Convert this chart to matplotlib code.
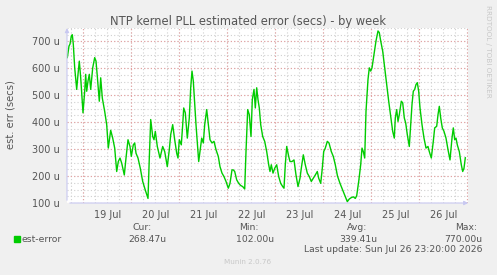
import matplotlib
matplotlib.use("Agg")
import matplotlib.pyplot as plt
import numpy as np

# hours since 18 Jul 00:00, estimated error in microseconds
hours = [16.0, 16.85, 17.35, 18.0, 18.5, 19.0, 19.7, 20.7, 21.35, 22.0, 22.7, 23.35, 23.85,
         24.7, 25.2, 25.7, 26.35, 27.0, 27.7, 28.7, 29.7, 30.35, 31.0, 32.0, 32.7, 33.5,
         34.7, 35.7, 36.5, 37.7, 38.7, 39.7, 40.7, 41.5, 42.35, 43.2, 44.5, 45.35, 46.35,
         47.35, 48.0, 49.0, 49.7, 50.35, 51.35, 52.5, 53.7, 55.0, 56.35, 57.0, 57.7, 58.7,
         59.35, 60.0, 61.0, 62.35, 63.7, 64.7, 66.0, 67.0, 67.7, 68.7, 69.7, 70.7, 71.35,
         72.0, 73.0, 73.7, 74.2, 75.0, 76.0, 77.0, 77.7, 78.35, 79.0, 79.7, 80.35, 81.7,
         82.5, 83.2, 84.0, 84.7, 85.7, 86.5, 87.35, 88.35, 89.35, 90.35, 91.5, 92.35, 93.35,
         94.35, 95.35, 96.5, 97.35, 98.35, 99.0, 99.7, 100.7, 101.7, 102.7, 103.7, 104.7,
         105.35, 106.2, 107.0, 107.85, 108.5, 109.35, 110.0, 110.7, 111.35, 112.0, 112.7,
         113.7, 114.7, 115.7, 116.7, 117.35, 118.0, 118.85, 119.7, 120.7, 121.7, 122.7,
         123.7, 124.35, 125.0, 125.7, 126.7, 127.35, 128.35, 129.35, 130.35, 131.35, 132.35,
         133.0, 134.0, 135.0, 136.0, 137.0, 138.0, 139.0, 140.0, 141.0, 141.7, 142.7, 143.5,
         144.2, 145.0, 146.0, 146.85, 148.0, 149.0, 150.0, 151.1, 152.35, 153.7, 155.0,
         156.0, 157.0, 158.0, 159.0, 160.0, 160.7, 161.7, 162.7, 163.35, 164.0, 164.7,
         165.35, 166.35, 167.0, 167.7, 168.35, 169.35, 170.35, 171.35, 172.0, 172.7, 173.7,
         174.7, 175.7, 176.7, 177.7, 178.7, 179.5, 180.0, 180.7, 181.35, 182.0, 183.0,
         183.7, 184.5, 185.2, 186.0, 187.0, 187.7, 188.35, 189.0, 189.7, 190.35, 191.0,
         191.7, 192.35, 193.35, 194.35, 195.35, 196.35, 197.0, 198.0, 199.0, 199.7, 200.7,
         201.35, 202.0, 202.7, 203.5, 204.35, 205.35, 206.35, 207.35, 208.35, 209.0, 209.7,
         210.35, 211.0, 212.0, 213.0, 213.7, 214.35, 215.0]
est_error = [640, 683, 690, 720, 725, 690, 602, 522, 578, 627, 565, 490, 435,
             515, 578, 515, 553, 578, 522, 602, 640, 627, 571, 478, 565, 490,
             440, 391, 304, 370, 341, 304, 217, 254, 267, 248, 204, 267, 335,
             310, 273, 316, 323, 285, 267, 229, 180, 148, 117, 267, 410, 347,
             335, 366, 310, 267, 310, 291, 235, 298, 354, 391, 335, 285, 267,
             335, 316, 391, 453, 435, 341, 416, 528, 590, 553, 466, 391, 254,
             300, 341, 323, 391, 447, 391, 335, 323, 329, 298, 273, 235, 211,
             198, 180, 155, 173, 223, 223, 217, 186, 173, 165, 161, 152,
             291, 447, 428, 347, 484, 522, 453, 528, 484, 453, 391,
             347, 329, 291, 242, 217, 242, 211, 229, 242, 198, 173,
             161, 155, 242, 310, 273, 254, 254, 260, 204, 161, 192,
             229, 279, 242, 211, 198, 180, 192, 204, 217, 192, 173, 229,
             291, 304, 329, 323, 291, 273, 242, 200, 173, 148, 123,
             105, 115, 120, 123, 117, 127, 180, 242, 304, 291, 267,
             440, 559, 602, 590, 602, 652, 702, 739, 733, 702, 664,
             602, 540, 478, 422, 366, 341, 416, 447, 403, 428, 478,
             472, 416, 397, 354, 310, 391, 466, 515, 522, 540, 547,
             515, 453, 391, 341, 304, 310, 291, 267, 329, 379, 385,
             428, 459, 416, 379, 366, 341, 298, 260, 341, 379, 335,
             341, 316, 291, 242, 217, 229, 268]

day_labels = ["19 Jul", "20 Jul", "21 Jul", "22 Jul", "23 Jul", "24 Jul", "25 Jul", "26 Jul"]
y_ticks = [100, 200, 300, 400, 500, 600, 700]
legend_label = "est-error"
cur, vmin, avg, vmax = "268.47u", "102.00u", "339.41u", "770.00u"

W, H = 497, 275
txt = "#555555"
fig = plt.figure(figsize=(W / 100, H / 100), dpi=100, facecolor="#f0f0f0")
ax = fig.add_axes([67 / W, (H - 203) / H, 401 / W, 175 / H])
ax.set_facecolor("white")

x0, x1 = 15.85, 216.35
ax.set_xlim(x0, x1)
ax.set_ylim(100, 750)

# grid: minor grey, major red, dotted
for h in np.arange(18, x1, 6):
    ax.axvline(h, color="#d0d0d0", lw=0.8, ls=(0, (1, 2)), zorder=1)
for v in np.arange(125, 751, 25):
    ax.axhline(v, color="#d0d0d0", lw=0.8, ls=(0, (1, 2)), zorder=1)
for h in np.arange(24, x1, 24):
    ax.axvline(h, color="#e6a0a0", lw=0.8, ls=(0, (1, 2)), zorder=2)
for v in y_ticks:
    ax.axhline(v, color="#e6a0a0", lw=0.8, ls=(0, (1, 2)), zorder=2)

ax.plot(hours, est_error, color="#00cc00", lw=1.0, zorder=3)

for s in ax.spines.values():
    s.set_visible(False)
ax.set_xticks([36 + 24 * i for i in range(len(day_labels))])
ax.set_xticklabels(day_labels)
ax.set_yticks(y_ticks)
ax.set_yticklabels([f"{v} u" for v in y_ticks])
ax.tick_params(length=0, labelsize=7, labelcolor=txt, pad=5)

# axes with arrows
ax.annotate("", xy=(x1 + 1.5, 100), xytext=(x0, 100), xycoords="data",
            arrowprops=dict(arrowstyle="-|>", color="#c8c8f0", lw=0.8, mutation_scale=6),
            annotation_clip=False)
ax.annotate("", xy=(x0, 760), xytext=(x0, 100), xycoords="data",
            arrowprops=dict(arrowstyle="-|>", color="#c8c8f0", lw=0.8, mutation_scale=6),
            annotation_clip=False)

fig.text(248 / W, 1 - 21 / H, "NTP kernel PLL estimated error (secs) - by week",
         ha="center", va="center", fontsize=8.3, color=txt)
fig.text(11 / W, 1 - 115 / H, "est. err (secs)", rotation=90, ha="center", va="center",
         fontsize=7.2, color=txt)
fig.text(488 / W, 1 - 51 / H, "RRDTOOL / TOBI OETIKER", rotation=-90, ha="center",
         va="center", fontsize=5.2, color="#c8c8c8")

fig.patches.append(plt.Rectangle((14 / W, 1 - 242 / H), 6 / W, 6 / H, color="#00cc00",
                                 transform=fig.transFigure))
fs = 6.7
fig.text(21 / W, 1 - 239.5 / H, legend_label, ha="left", va="center", fontsize=fs, color=txt)
fig.text(142 / W, 1 - 227 / H, "Cur:", ha="center", va="center", fontsize=fs, color=txt)
fig.text(147.5 / W, 1 - 239.5 / H, cur, ha="center", va="center", fontsize=fs, color=txt)
fig.text(249 / W, 1 - 227 / H, "Min:", ha="center", va="center", fontsize=fs, color=txt)
fig.text(255 / W, 1 - 239.5 / H, vmin, ha="center", va="center", fontsize=fs, color=txt)
fig.text(357 / W, 1 - 227 / H, "Avg:", ha="center", va="center", fontsize=fs, color=txt)
fig.text(358 / W, 1 - 239.5 / H, avg, ha="center", va="center", fontsize=fs, color=txt)
fig.text(477 / W, 1 - 227 / H, "Max:", ha="right", va="center", fontsize=fs, color=txt)
fig.text(482 / W, 1 - 239.5 / H, vmax, ha="right", va="center", fontsize=fs, color=txt)
fig.text(482 / W, 1 - 250 / H, "Last update: Sun Jul 26 23:20:00 2026", ha="right",
         va="center", fontsize=fs, color=txt)
fig.text(248 / W, 1 - 262.5 / H, "Munin 2.0.76", ha="center", va="center", fontsize=5.2,
         color="#c8c8c8")

fig.savefig("out.png", dpi=100, facecolor=fig.get_facecolor())
